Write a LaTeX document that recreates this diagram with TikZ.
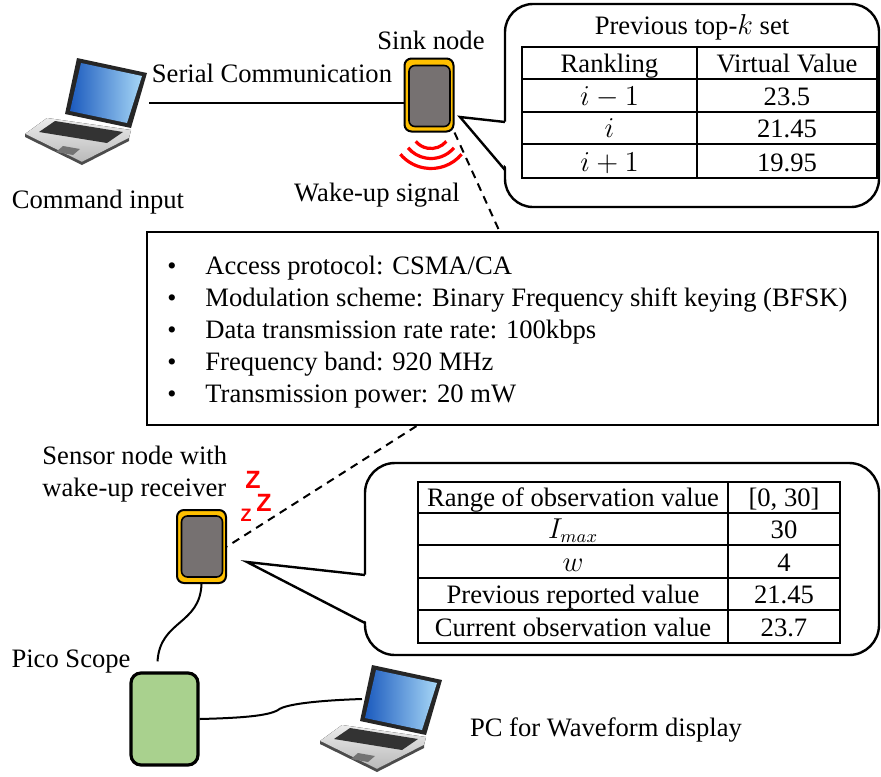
\documentclass[tikz,border=0pt]{standalone}
\usepackage{fontspec}
\setmainfont{Liberation Serif}
\newfontfamily\zfont{Liberation Sans}
\usetikzlibrary{calc,positioning}

\definecolor{boardorange}{HTML}{FFC000}
\definecolor{boardgray}{HTML}{767171}
\definecolor{scopegreen}{HTML}{A9D18E}
\definecolor{screendark}{HTML}{1C5BBE}
\definecolor{screenlight}{HTML}{A6D6F6}

\newcommand\lblfont{\fontsize{13.3}{16}\selectfont}

\tikzset{
  lbl/.style={font=\lblfont, inner sep=0pt, anchor=base},
  devframe/.style={draw, line width=1pt, fill=boardorange, rounded corners=3.5pt,
    minimum width=24.5pt, minimum height=36.5pt, inner sep=0pt},
  devcore/.style={draw, line width=0.8pt, fill=boardgray, rounded corners=3pt,
    minimum width=20.5pt, minimum height=30.5pt, inner sep=0pt},
  scopebox/.style={draw, line width=1.6pt, fill=scopegreen, rounded corners=5pt,
    minimum width=33.5pt, minimum height=46pt, inner sep=0pt},
  specbox/.style={draw, line width=1.1pt, minimum width=365.5pt, minimum height=96.5pt, inner sep=0pt},
  callout/.style={draw, line width=1.2pt, rounded corners=14pt, inner sep=0pt, outer sep=0pt},
  callline/.style={line width=1.2pt, line join=miter},
  grid/.style={line width=0.6pt},
  cable/.style={line width=1pt},
  link/.style={line width=1pt, dash pattern=on 4pt off 3pt},
  wave/.style={red, line width=1.6pt},
  zz/.style={red, inner sep=0pt, font=\zfont\bfseries\fontsize{12.5}{12.5}\selectfont},
  laptop/.pic={
    % base and keyboard
    \fill[top color=gray!15, bottom color=gray!55] (22,60) -- (106,72) -- (104,80) -- (57,104) -- (0,76) -- cycle;
    \fill[gray!60!black] (0,76) -- (57,104) -- (104,80) -- (104,83) -- (57,107) -- (0,79) -- cycle;
    \fill[black!80] (30,63) -- (98,74) -- (82,85) -- (14,74) -- cycle;
    \fill[black!55] (38,88) -- (55,91) -- (48,97) -- (31,94) -- cycle;
    % lid
    \fill[black!85] (52,0) -- (122,15) -- (106,70) -- (40,56) -- cycle;
    \shade[left color=screendark, right color=screenlight] (56,5) -- (117,18) -- (102,65) -- (45,53) -- cycle;
    \coordinate (-left) at (42,34);
    \coordinate (-right) at (124,45);
  }
}

\begin{document}
\begin{tikzpicture}[x=0.5pt,y=-0.5pt]
  \useasboundingbox (0,0) rectangle (881,776);

  % sink side
  \pic (cmd) at (25,58) {laptop};
  \node[devframe] (sink) at (429,95) {};
  \node[devcore] (sinkcore) at (429.5,96) {};
  \draw[cable] (cmd-right) -- (cmd-right -| sink.west);
  \foreach \r in {20,30,40}
    \draw[wave] ($(sink.south)+(2,-4)$) ++(40:\r) arc (40:140:\r);
  \node[lbl] (sinklbl) at (431,49) {Sink node};
  \node[lbl] (seriallbl) at (272,82) {Serial Communication};
  \node[lbl] (cmdlbl) at (98,208) {Command input};
  \node[lbl] (wakelbl) at (377,201) {Wake-up signal};

  % top-k callout
  \node[callout, minimum width=187pt, minimum height=101.5pt] (topk) at (692,105.5) {};
  \coordinate (topktip) at (460,117);
  \fill[white] ($(topk.west)+(4,16.5)$) -- (topktip) -- ($(topk.west)+(4,64.5)$) -- cycle;
  \draw[callline] ($(topk.west)+(0,16.5)$) -- (topktip) -- ($(topk.west)+(0,64.5)$);
  \node[lbl] (topktitle) at (692,34) {Previous top-$k$ set};
  \draw[grid] (522,47) rectangle (877,178) (697,47) -- (697,178);
  \foreach \y in {79,112,144} \draw[grid] (522,\y) -- (877,\y);
  \foreach \a/\b/\y in {Rankling/Virtual Value/72, $i-1$/23.5/105, $i$/21.45/137, $i+1$/19.95/171}{
    \node[lbl] (rank\y) at (609.5,\y) {\a};
    \node[lbl] (val\y) at (787,\y) {\b};
  }

  % radio parameters
  \node[specbox] (spec) at (512.5,328.5) {};
  \foreach \spec [count=\k] in {Access protocol: CSMA/CA,
      Modulation scheme: Binary Frequency shift keying (BFSK),
      Data transmission rate rate: 100kbps,
      Frequency band: 920 MHz,
      Transmission power: 20 mW}{
    \node[lbl, font=\fontsize{13}{13}\selectfont] (dot\k) at (172,242+32*\k) {\textbullet};
    \node[lbl, anchor=base west] (item\k) at (205,242+32*\k) {\spec};
  }
  \coordinate (spectop) at ($(spec.north west)!0.482!(spec.north east)$);
  \coordinate (specbot) at ($(spec.south west)!0.369!(spec.south east)$);
  \draw[link] (sink.south east) -- (spectop);

  % sensor side
  \node[devframe] (sensor) at (201.5,546.5) {};
  \node[devcore] (sensorcore) at (202,546.5) {};
  \draw[link] (specbot) -- (sensor.east);
  \node[lbl, anchor=base west] (sensorlbl) at (42,464) {Sensor node with};
  \node[lbl, anchor=base west] (sensorlblb) at (42,496) {wake-up receiver};
  \node[zz] (za) at (253,480) {Z};
  \node[zz] (zb) at (264,503) {Z};
  \node[zz, font=\zfont\bfseries\fontsize{9}{9}\selectfont] (zc) at (246,515) {Z};

  % observation callout
  \node[callout, minimum width=257pt, minimum height=96pt, rounded corners=15pt] (obs) at (622,559) {};
  \coordinate (obstip) at (247,562);
  \fill[white] ($(obs.west)+(4,16)$) -- (obstip) -- ($(obs.west)+(4,64)$) -- cycle;
  \draw[callline] ($(obs.west)+(0,16)$) -- (obstip) -- ($(obs.west)+(0,64)$);
  \draw[grid] (418,482) rectangle (840,643) (728,482) -- (728,643);
  \foreach \y in {513,545,578,610} \draw[grid] (418,\y) -- (840,\y);
  \foreach \a/\b/\y in {Range of observation value/{[0, 30]}/506, $I_{max}$/30/538, $w$/4/571,
      Previous reported value/21.45/603, Current observation value/23.7/636}{
    \node[lbl] (par\y) at (573,\y) {\a};
    \node[lbl] (num\y) at (784,\y) {\b};
  }

  % measurement
  \node[scopebox] (pico) at (164.5,719) {};
  \pic (pc) at (320,665) {laptop};
  \draw[cable] (sensor.south) .. controls (200,625) and (160,620) .. ($(pico.north)+(-7,-10)$);
  \draw[cable] (pico.east) .. controls (240,718) and (268,716) .. (278,710)
    .. controls (286,703) and (330,700) .. (pc-left);
  \node[lbl] (picolbl) at (71,667) {Pico Scope};
  \node[lbl] (pclbl) at (606,736) {PC for Waveform display};
\end{tikzpicture}
\end{document}
